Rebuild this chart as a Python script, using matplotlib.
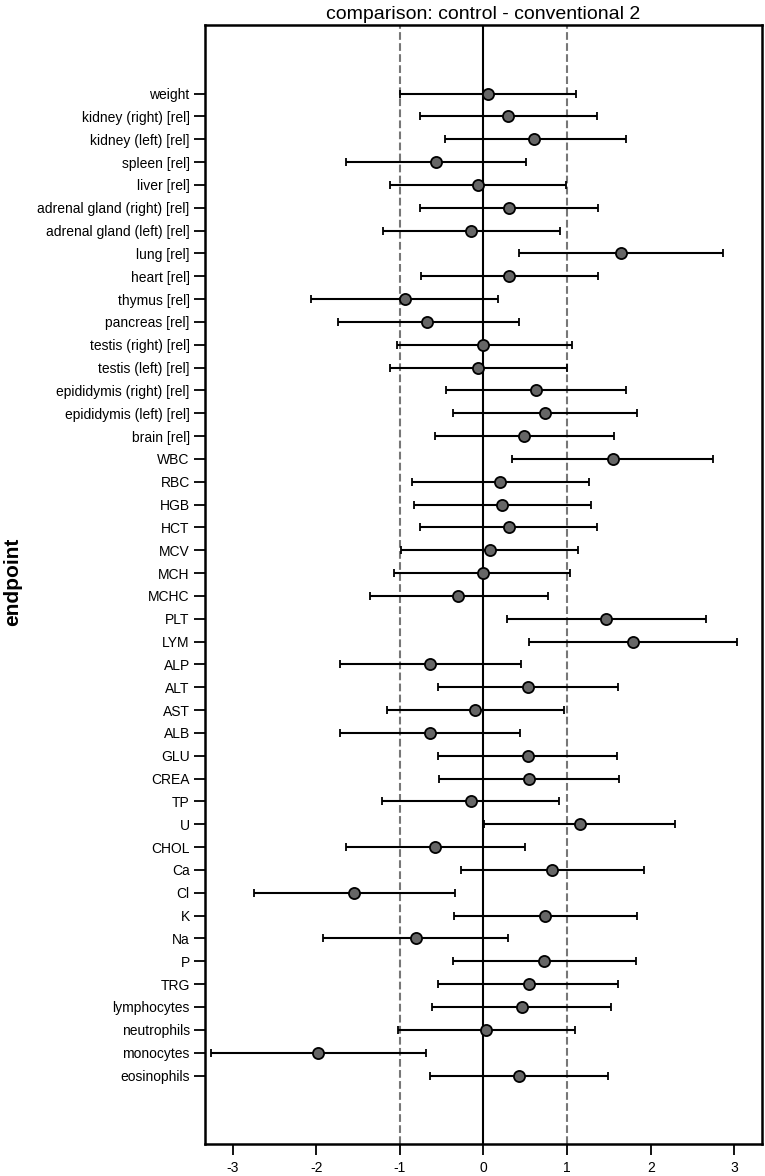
import matplotlib
matplotlib.use("Agg")
import matplotlib.pyplot as plt
import numpy as np

plt.rcParams['font.family'] = ['Liberation Sans', 'DejaVu Sans']
plt.rcParams['axes.unicode_minus'] = False

endpoints = ['weight', 'kidney (right) [rel]', 'kidney (left) [rel]', 'spleen [rel]',
             'liver [rel]', 'adrenal gland (right) [rel]', 'adrenal gland (left) [rel]',
             'lung [rel]', 'heart [rel]', 'thymus [rel]', 'pancreas [rel]',
             'testis (right) [rel]', 'testis (left) [rel]', 'epididymis (right) [rel]',
             'epididymis (left) [rel]', 'brain [rel]', 'WBC', 'RBC', 'HGB', 'HCT', 'MCV',
             'MCH', 'MCHC', 'PLT', 'LYM', 'ALP', 'ALT', 'AST', 'ALB', 'GLU', 'CREA', 'TP',
             'U', 'CHOL', 'Ca', 'Cl', 'K', 'Na', 'P', 'TRG', 'lymphocytes', 'neutrophils',
             'monocytes', 'eosinophils']

estimate = [0.05, 0.29, 0.61, -0.57, -0.07, 0.31, -0.15, 1.65, 0.31, -0.94, -0.67,
            0.00, -0.07, 0.63, 0.73, 0.49, 1.55, 0.20, 0.22, 0.30, 0.08, -0.01, -0.30,
            1.46, 1.79, -0.64, 0.53, -0.10, -0.64, 0.53, 0.54, -0.15, 1.15, -0.58, 0.82,
            -1.55, 0.74, -0.81, 0.72, 0.54, 0.46, 0.03, -1.98, 0.42]

lower = [-1.00, -0.76, -0.46, -1.65, -1.12, -0.76, -1.20, 0.43, -0.75, -2.06, -1.74,
         -1.04, -1.12, -0.45, -0.36, -0.58, 0.34, -0.86, -0.83, -0.76, -0.99, -1.07, -1.36,
         0.28, 0.54, -1.72, -0.54, -1.15, -1.72, -0.54, -0.53, -1.21, 0.01, -1.65, -0.27,
         -2.75, -0.35, -1.92, -0.37, -0.54, -0.61, -1.02, -3.26, -0.64]

upper = [1.11, 1.36, 1.70, 0.51, 0.99, 1.37, 0.91, 2.87, 1.37, 0.17, 0.42,
         1.06, 1.00, 1.71, 1.83, 1.56, 2.75, 1.26, 1.28, 1.36, 1.13, 1.04, 0.77,
         2.66, 3.03, 0.45, 1.61, 0.96, 0.44, 1.60, 1.62, 0.90, 2.29, 0.50, 1.92,
         -0.34, 1.84, 0.29, 1.82, 1.61, 1.53, 1.09, -0.69, 1.49]

est = np.array(estimate)
lo = np.array(lower)
hi = np.array(upper)
ypos = np.arange(len(endpoints), 0, -1)

fig = plt.figure(figsize=(7.65, 11.76), dpi=100)
ax = fig.add_axes([0.268, 0.0272, 0.728, 0.9515])

ax.axvline(0, color='black', lw=1.5, zorder=1)
ax.axvline(-1, color='#777777', lw=1.5, ls='--', zorder=1)
ax.axvline(1, color='#777777', lw=1.5, ls='--', zorder=1)

ax.errorbar(est, ypos, xerr=[est - lo, hi - est], fmt='o', color='black',
            ecolor='black', elinewidth=1.5, capsize=3, capthick=1.5,
            markersize=8, markerfacecolor='#666666', markeredgecolor='black',
            markeredgewidth=1.3, zorder=3)

ax.set_yticks(ypos)
ax.set_yticklabels(endpoints, fontsize=10)
ax.set_xticks([-3, -2, -1, 0, 1, 2, 3])
ax.tick_params(axis='x', labelsize=10, length=8, width=1.3, pad=4)
ax.tick_params(axis='y', length=8, width=1.3, pad=3)
ax.set_xlim(-3.33, 3.33)
ax.set_ylim(-2, 47)
for s in ax.spines.values():
    s.set_linewidth(1.8)

ax.set_title('comparison: control - conventional 2', fontsize=14, pad=4)
fig.text(0.016, 0.505, 'endpoint', rotation=90, fontsize=15, fontweight='bold',
         va='center', ha='center')

fig.savefig('out.png', dpi=100)
